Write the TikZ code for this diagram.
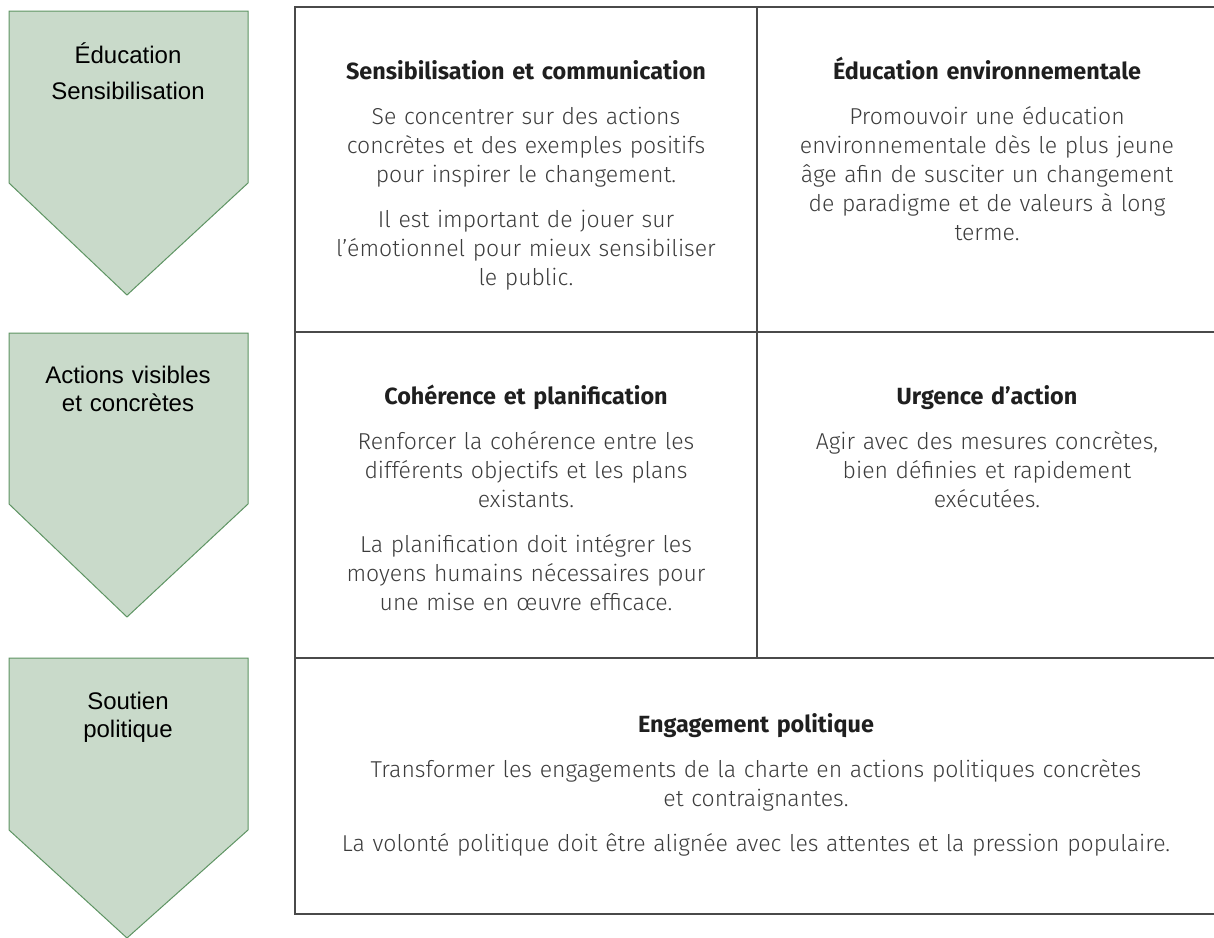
\documentclass[tikz,border=0pt]{standalone}
\usepackage{fontspec}
\setmainfont{Fira Sans Light}[BoldFont={Fira Sans Bold}]
\newfontfamily\arialfont{Liberation Sans}
\definecolor{sauge}{HTML}{C9DACA}
\definecolor{vertbord}{HTML}{5E9463}
\definecolor{gristexte}{HTML}{3C3C3C}
\definecolor{trait}{HTML}{4A4A4A}
\begin{document}
\begin{tikzpicture}[x=0.5pt,y=-0.5pt,
  pentagone/.style={fill=sauge,draw=vertbord,line width=0.5pt},
  etiquette/.style={anchor=base,inner sep=0pt,text width=115pt,align=center,font=\arialfont\fontsize{12}{14}\selectfont},
  cellule/.style={anchor=base,inner sep=0pt,text width=230pt,align=center,text=gristexte,font=\fontsize{11.5}{14.5}\selectfont}]
\useasboundingbox (0,0) rectangle (1214,937);
% pentagones
\draw[pentagone] (9,11) -- (248,11) -- (248,183) -- (127,295) -- (9,183) -- cycle;
\draw[pentagone] (9,333) -- (248,333) -- (248,504) -- (127,617) -- (9,504) -- cycle;
\draw[pentagone] (9,658) -- (248,658) -- (248,830) -- (127,938) -- (9,830) -- cycle;
\node[etiquette] (edu) at (128,63) {\'Education\\[4pt]Sensibilisation};
\node[etiquette] (act) at (128,383) {Actions visibles\\et concr\`etes};
\node[etiquette] (pol) at (128,709) {Soutien\\politique};
% tableau
\draw[trait,line width=0.9pt] (295,7) rectangle (1217,914);
\draw[trait,line width=0.9pt] (295,332) -- (1217,332);
\draw[trait,line width=0.9pt] (295,658) -- (1217,658);
\draw[trait,line width=0.9pt] (757,7) -- (757,658);
\node[cellule] (sens) at (526,79) {{\color{black!88}\fontsize{11.7}{14.5}\selectfont\bfseries Sensibilisation et communication}\\[8pt]
  Se concentrer sur des actions\\concr\`etes et des exemples positifs\\pour inspirer le changement.\\[8pt]
  Il est important de jouer sur\\l’\'emotionnel pour mieux sensibiliser\\le public.};
\node[cellule] (envi) at (987,79) {{\color{black!88}\fontsize{11.7}{14.5}\selectfont\bfseries \'Education environnementale}\\[8pt]
  Promouvoir une \'education\\environnementale d\`es le plus jeune\\\^age afin de susciter un changement\\de paradigme et de valeurs \`a long\\terme.};
\node[cellule] (coh) at (526,404) {{\color{black!88}\fontsize{11.7}{14.5}\selectfont\bfseries Coh\'erence et planification}\\[8pt]
  Renforcer la coh\'erence entre les\\diff\'erents objectifs et les plans\\existants.\\[8pt]
  La planification doit int\'egrer les\\moyens humains n\'ecessaires pour\\une mise en \oe uvre efficace.};
\node[cellule] (urg) at (987,404) {{\color{black!88}\fontsize{11.7}{14.5}\selectfont\bfseries Urgence d’action}\\[8pt]
  Agir avec des mesures concr\`etes,\\bien d\'efinies et rapidement\\ex\'ecut\'ees.};
\node[cellule,text width=450pt] (eng) at (756,732) {{\color{black!88}\fontsize{11.7}{14.5}\selectfont\bfseries Engagement politique}\\[8pt]
  Transformer les engagements de la charte en actions politiques concr\`etes\\et contraignantes.\\[8pt]
  La volont\'e politique doit \^etre align\'ee avec les attentes et la pression populaire.};
\end{tikzpicture}
\end{document}
